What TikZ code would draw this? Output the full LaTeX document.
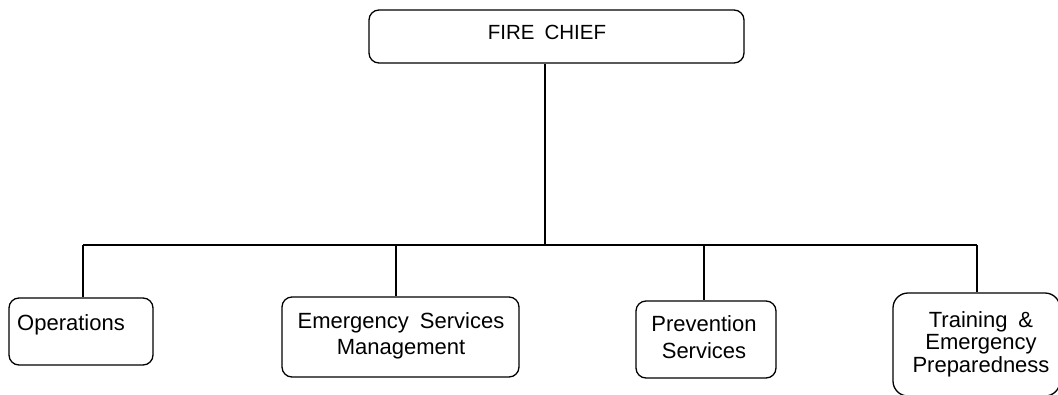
\documentclass[tikz,border=0pt]{standalone}
\usepackage{fontspec}
\setmainfont{Liberation Sans}
\begin{document}
\begin{tikzpicture}[x=1pt,y=-1pt,
  box/.style={draw=black,line width=1.3pt,rounded corners=10pt,inner sep=0pt,fill=none},
  lbl/.style={inner sep=0pt,font=\fontsize{22}{26.5}\selectfont,align=center},
  conn/.style={draw=black,line width=1.3pt}]
\useasboundingbox (0,0) rectangle (1058,394);
\clip (0,0) rectangle (1058,394);
% boxes
\node[box,minimum width=375pt,minimum height=53pt] (fc) at (556.5,36.5) {};
\node[box,minimum width=144pt,minimum height=67pt] (ops) at (81,331.5) {};
\node[box,minimum width=237pt,minimum height=80pt] (esm) at (400.5,337) {};
\node[box,minimum width=140pt,minimum height=77pt] (prev) at (706,339.5) {};
\node[box,rounded corners=15pt,minimum width=167pt,minimum height=103pt] (train) at (976.5,344.5) {};
% texts
\node[lbl,font=\fontsize{20.5}{24}\selectfont,anchor=base] (fct) at (547,39) {FIRE\hspace{10pt}CHIEF};
\node[lbl,anchor=base west] (opst) at (17,330) {Operations};
\node[lbl,anchor=center] (esmt) at (401,336) {Emergency\hspace{11pt}Services\\Management};
\node[lbl,anchor=center] (prevt) at (704,337) {Prevention\\Services};
\node[lbl,font=\fontsize{22}{22.5}\selectfont,anchor=center] (traint) at (981,344) {Training\hspace{11pt}\&\\Emergency\\Preparedness};
% connectors
\coordinate (j) at (545,245);
\coordinate (d1) at (83,245);
\coordinate (d2) at (396,245);
\coordinate (d3) at (704,245);
\coordinate (d4) at (977,245);
\draw[conn] (fc.south -| j) -- (j);
\draw[conn] (d1) -- (d4);
\draw[conn] (d1) -- (d1 |- ops.north);
\draw[conn] (d2) -- (d2 |- esm.north);
\draw[conn] (d3) -- (d3 |- prev.north);
\draw[conn] (d4) -- (d4 |- train.north);
\end{tikzpicture}
\end{document}
